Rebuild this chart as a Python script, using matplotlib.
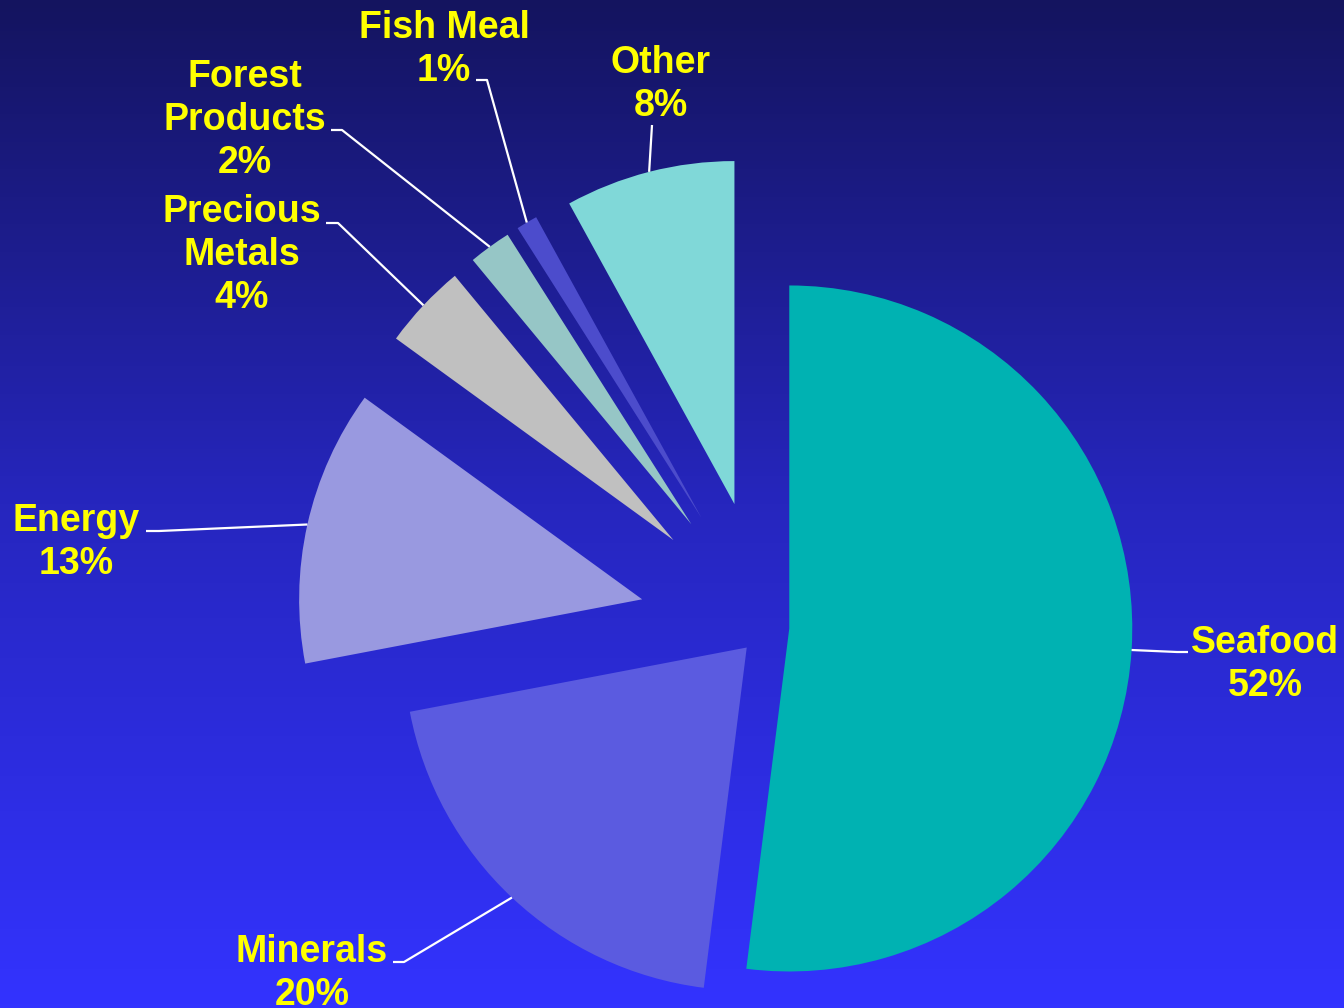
import numpy as np
import matplotlib
matplotlib.use("Agg")
import matplotlib.pyplot as plt
from matplotlib.colors import LinearSegmentedColormap

# export shares by sector (percent), clockwise from 12 o'clock
sectors = ["Seafood", "Minerals", "Energy", "Precious\nMetals",
           "Forest\nProducts", "Fish Meal", "Other"]
shares = [52, 20, 13, 4, 2, 1, 8]
colors = ["#00B2B2", "#5B5BE0", "#9999E0", "#C0C0C0",
          "#96C6C6", "#4C4CCC", "#80D8D8"]
explode = [0.068, 0.082, 0.37, 0.37, 0.37, 0.37, 0.37]

W, H = 1344, 1008
CX, CY, R = 766, 627, 343   # pie centre and radius in pixels


def px(x, y):
    # pixel position (origin top-left) -> data units of the pie
    return (x - CX) / R, (CY - y) / R


# label layout: centre x, first baseline y, leader end, leader elbow (pixels)
label_x = [1265, 312, 76, 242, 245, 444, 661]
label_y = [653, 962, 531, 222, 87, 38, 73]
leader_end = [(1188, 652), (393, 962), (146, 531), (326, 223),
              (331, 130), (476, 80), (652, 125)]
leader_elbow = [(1177, 652), (404, 962), (159, 531), (338, 223),
                (342, 130), (487, 80), (652, 125)]
line_gap = 43

fig = plt.figure(figsize=(13.44, 10.08), dpi=100)
ax = fig.add_axes([0, 0, 1, 1])

x0, y0 = px(0, H)
x1, y1 = px(W, 0)

# navy-to-blue background, dark at the top
grad = np.linspace(0, 1, 256).reshape(-1, 1)
bg = LinearSegmentedColormap.from_list("bg", ["#14145F", "#2626BE", "#3333FF"])
ax.imshow(grad, cmap=bg, extent=[x0, x1, y0, y1], origin="upper",
          aspect="auto", zorder=0)

wedges, _ = ax.pie(shares, explode=explode, colors=colors, startangle=90,
                   counterclock=False, radius=1, center=(0, 0),
                   wedgeprops=dict(linewidth=0, zorder=2))

for i, w in enumerate(wedges):
    mid = np.deg2rad((w.theta1 + w.theta2) / 2)
    sx = w.center[0] + w.r * np.cos(mid)
    sy = w.center[1] + w.r * np.sin(mid)
    ex, ey = px(*leader_elbow[i])
    fx, fy = px(*leader_end[i])
    ax.plot([sx, ex, fx], [sy, ey, fy], color="white", lw=1.6, zorder=3,
            solid_capstyle="butt")

    lines = (sectors[i] + "\n" + f"{shares[i]}%").split("\n")
    for j, txt in enumerate(lines):
        tx, ty = px(label_x[i], label_y[i] + j * line_gap)
        ax.text(tx, ty, txt, ha="center", va="baseline", color="#FFFF00",
                fontsize=27, fontweight="bold", family="Liberation Sans",
                zorder=4)

ax.set_xlim(x0, x1)
ax.set_ylim(y0, y1)
ax.set_aspect("auto")
ax.axis("off")

fig.savefig("out.png", dpi=100)
